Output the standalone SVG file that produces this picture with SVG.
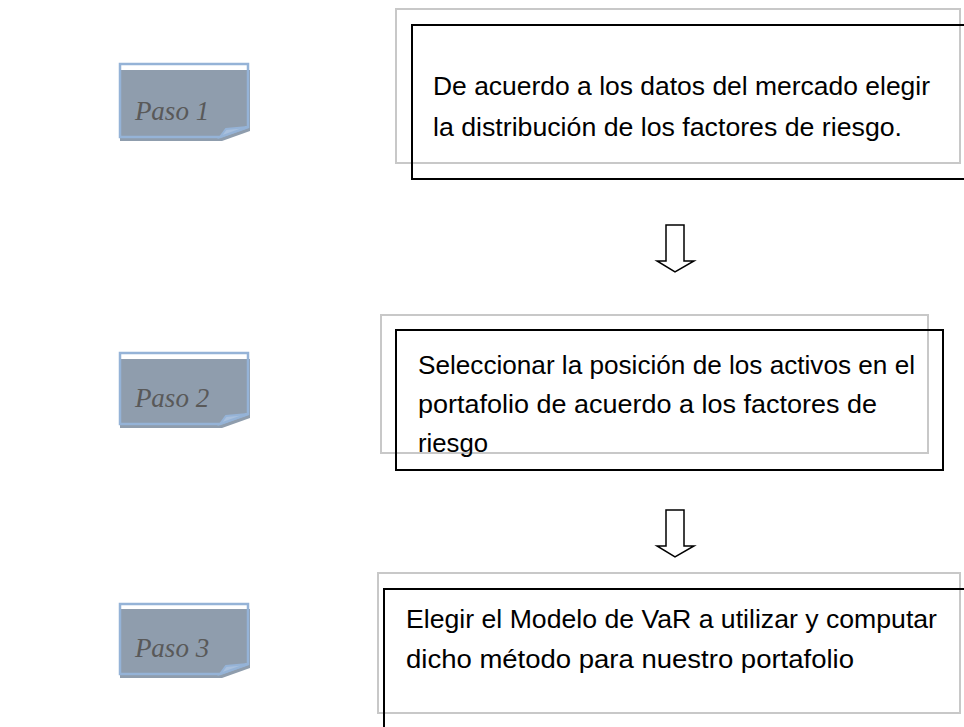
<svg xmlns="http://www.w3.org/2000/svg" width="964" height="727" viewBox="0 0 964 727">
<defs>
<style>
.shadow{fill:#8F9DAD;}
.outline{fill:none;stroke:#95B3D7;stroke-width:2.5;stroke-linejoin:miter;}
.fold{fill:#A9C0DD;stroke:#95B3D7;stroke-width:2;}
.paso{font-family:"Liberation Serif",serif;font-style:italic;font-size:27px;fill:#595959;}
.gbox{fill:none;stroke:#C8C8C8;stroke-width:2;}
.bbox{fill:none;stroke:#000;stroke-width:2;}
.txt{font-family:"Liberation Sans",Arial,sans-serif;font-size:25px;fill:#000;}
.arrow{fill:#fff;stroke:#000;stroke-width:1.5;stroke-linejoin:miter;}
</style>
</defs>
<rect width="964" height="727" fill="#fff"/>

<g id="paso1">
<polygon class="shadow" points="120,70 250,70 250,131 222,141 120,141"/>
<polygon class="outline" points="120,64 248,64 248,127 220,137 120,137"/>
<polygon class="fold" points="220,137 226,129 248,127"/>
<text class="paso" x="172" y="120" text-anchor="middle">Paso 1</text>
</g>

<g id="paso2">
<polygon class="shadow" points="120,359 250,359 250,418 222,428 120,428"/>
<polygon class="outline" points="120,353 248,353 248,414 220,424 120,424"/>
<polygon class="fold" points="220,424 226,416 248,414"/>
<text class="paso" x="172" y="407" text-anchor="middle">Paso 2</text>
</g>

<g id="paso3">
<polygon class="shadow" points="120,609 250,609 250,668 222,678 120,678"/>
<polygon class="outline" points="120,604 248,604 248,664 220,674 120,674"/>
<polygon class="fold" points="220,674 226,666 248,664"/>
<text class="paso" x="172" y="657" text-anchor="middle">Paso 3</text>
</g>

<g id="step1">
<rect class="gbox" x="396" y="9" width="564" height="154"/>
<rect class="bbox" x="412" y="25" width="560" height="154"/>
<text class="txt" x="433" y="95" textLength="497" lengthAdjust="spacingAndGlyphs">De acuerdo a los datos del mercado elegir</text>
<text class="txt" x="433" y="136" textLength="469" lengthAdjust="spacingAndGlyphs">la distribución de los factores de riesgo.</text>
</g>

<g id="step2">
<rect class="gbox" x="381" y="315" width="547" height="138"/>
<rect class="bbox" x="396" y="330" width="547" height="140"/>
<text class="txt" x="418" y="374" textLength="497" lengthAdjust="spacingAndGlyphs">Seleccionar la posición de los activos en el</text>
<text class="txt" x="418" y="413" textLength="459" lengthAdjust="spacingAndGlyphs">portafolio de acuerdo a los factores de</text>
<text class="txt" x="418" y="452" textLength="70" lengthAdjust="spacingAndGlyphs">riesgo</text>
</g>

<g id="step3">
<rect class="gbox" x="378" y="573" width="582" height="140"/>
<rect class="bbox" x="384" y="589" width="600" height="160"/>
<text class="txt" x="406" y="628" textLength="531" lengthAdjust="spacingAndGlyphs">Elegir el Modelo de VaR a utilizar y computar</text>
<text class="txt" x="406" y="668" textLength="448" lengthAdjust="spacingAndGlyphs">dicho método para nuestro portafolio</text>
</g>

<g id="connectors">
<polygon class="arrow" points="666,225 684,225 684,261 694,261 675,272 657,261 666,261"/>
<polygon class="arrow" points="666,510 684,510 684,546 694,546 675,557 657,546 666,546"/>
</g>
</svg>
